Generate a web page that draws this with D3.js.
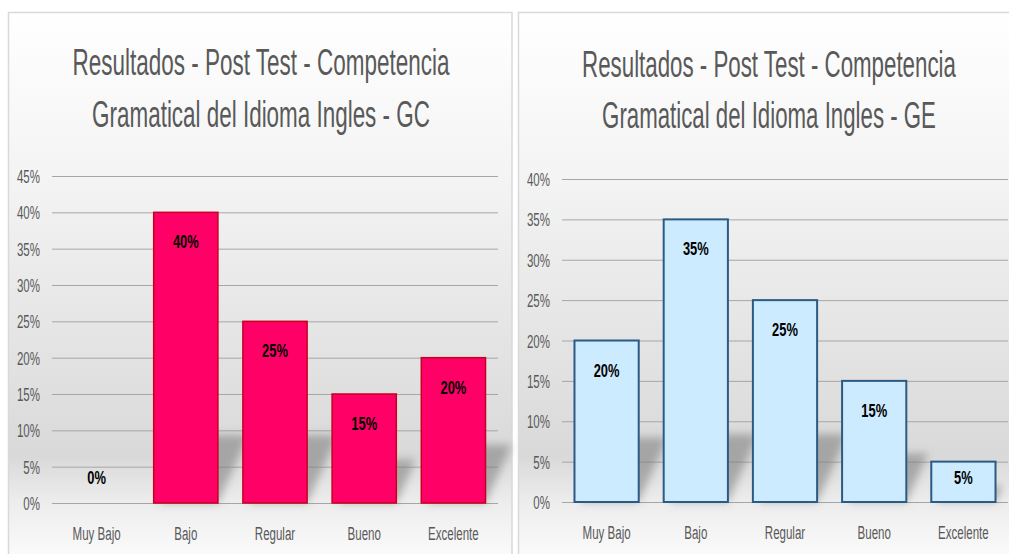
<!DOCTYPE html>
<html>
<head>
<meta charset="utf-8">
<script src="https://cdn.jsdelivr.net/npm/d3@7/dist/d3.min.js"></script>
<style>
  html, body { margin: 0; padding: 0; background: #fff; }
  svg { display: block; font-family: "Liberation Sans", Arial, sans-serif; }
</style>
</head>
<body>
<div id="chart"></div>
<script>
// categorias y valores (porcentajes)
const categories = ["Muy Bajo", "Bajo", "Regular", "Bueno", "Excelente"];
const valuesGC = [0, 40, 25, 15, 20];
const valuesGE = [20, 35, 25, 15, 5];
const ticksGC = [0, 5, 10, 15, 20, 25, 30, 35, 40, 45];
const ticksGE = [0, 5, 10, 15, 20, 25, 30, 35, 40];
const titleGC = ["Resultados - Post Test - Competencia", "Gramatical del Idioma Ingles - GC"];
const titleGE = ["Resultados - Post Test - Competencia", "Gramatical del Idioma Ingles - GE"];

const W = 1009, H = 554;
const SX = 0.64; // texto condensado

const svg = d3.select("#chart").append("svg").attr("width", W).attr("height", H);
const defs = svg.append("defs");

defs.append("filter").attr("id", "blur")
  .attr("x", "-50%").attr("y", "-50%").attr("width", "200%").attr("height", "200%")
  .append("feGaussianBlur").attr("stdDeviation", 4);

const grad = defs.append("linearGradient").attr("id", "bg")
  .attr("gradientUnits", "userSpaceOnUse")
  .attr("x1", 0).attr("x2", 0).attr("y1", 12).attr("y2", 554);
[[0, "#ffffff"], [0.3, "#f4f4f4"], [0.82, "#d9d9d9"], [0.9, "#ececec"], [1, "#fafafa"]]
  .forEach(([o, c]) => grad.append("stop").attr("offset", o).attr("stop-color", c));

function drawPanel(cfg) {
  const g = svg.append("g");

  // fondo del panel
  g.append("rect")
    .attr("x", cfg.px).attr("y", 12.5)
    .attr("width", cfg.pw).attr("height", 560)
    .attr("fill", "url(#bg)")
    .attr("stroke", "#d9d9d9").attr("stroke-width", 1.5);

  // titulo (escalado horizontal para que ocupe el ancho del original)
  cfg.title.forEach((t, i) => {
    const txt = g.append("text")
      .attr("text-anchor", "middle")
      .attr("font-size", 37)
      .attr("fill", "#595959")
      .text(t);
    const w = txt.node().getComputedTextLength();
    txt.attr("transform", `translate(${cfg.tx},${cfg.ty[i]}) scale(${cfg.tw[i] / w},1)`);
  });

  const x = d3.scaleBand()
    .domain(categories)
    .range([cfg.x0, cfg.x1])
    .paddingInner(0.28)
    .paddingOuter(0.14);

  const y = d3.scaleLinear()
    .domain([0, d3.max(cfg.ticks)])
    .range([cfg.y0, cfg.yTop]);

  // lineas de cuadricula + etiquetas eje Y
  const yAxis = g.append("g")
    .attr("transform", `translate(${cfg.x0},0)`)
    .call(d3.axisLeft(y)
      .tickValues(cfg.ticks)
      .tickFormat((d) => d + "%")
      .tickSize(-(cfg.x1 - cfg.x0))
      .tickPadding(12));
  yAxis.select(".domain").remove();
  yAxis.selectAll(".tick line").attr("stroke", "#a6a6a6").attr("stroke-width", 1);
  yAxis.selectAll(".tick text")
    .attr("x", 0).attr("dy", null).attr("y", 0)
    .attr("transform", `translate(-12,6.5) scale(${SX},1)`)
    .attr("font-size", 18)
    .attr("font-family", "Liberation Sans, Arial, sans-serif")
    .attr("fill", "#595959");

  // sombras
  g.append("g").attr("filter", "url(#blur)")
    .selectAll("polygon")
    .data(categories.map((c, i) => ({ c, v: cfg.values[i] })).filter((d) => d.v > 0))
    .enter()
    .append("polygon")
    .attr("points", (d) => {
      const xl = x(d.c), xr = xl + x.bandwidth();
      const h = cfg.y0 - y(d.v);
      const sh = Math.min(h * 0.4, 68);
      const dx = sh * 0.45;
      return [[xl + 6, cfg.y0], [xr, cfg.y0], [xr + dx, cfg.y0 - sh], [xl + dx, cfg.y0 - sh]].join(" ");
    })
    .attr("fill", "#7a7a7a")
    .attr("opacity", 0.55);

  // barras
  g.append("g")
    .selectAll("rect")
    .data(cfg.values)
    .enter()
    .append("rect")
    .attr("x", (d, i) => x(categories[i]))
    .attr("y", (d) => y(d))
    .attr("width", x.bandwidth())
    .attr("height", (d) => cfg.y0 - y(d))
    .attr("fill", cfg.fill)
    .attr("stroke", cfg.stroke)
    .attr("stroke-width", cfg.sw)
    .attr("display", (d) => (d > 0 ? null : "none"));

  // etiquetas de datos
  g.append("g")
    .selectAll("text")
    .data(cfg.values)
    .enter()
    .append("text")
    .attr("transform", (d, i) => {
      const cx = x(categories[i]) + x.bandwidth() / 2;
      const h = cfg.y0 - y(d);
      const by = h < 1 ? cfg.y0 - 19 : y(d) + Math.min(36, h * 0.55);
      return `translate(${cx},${by}) scale(0.68,1)`;
    })
    .attr("text-anchor", "middle")
    .attr("font-size", 19)
    .attr("font-weight", "bold")
    .attr("fill", "#000")
    .text((d) => d + "%");

  // etiquetas de categorias
  g.append("g")
    .selectAll("text")
    .data(categories)
    .enter()
    .append("text")
    .attr("transform", (d) => `translate(${x(d) + x.bandwidth() / 2},${cfg.y0 + 37}) scale(${SX},1)`)
    .attr("text-anchor", "middle")
    .attr("font-size", 18)
    .attr("fill", "#595959")
    .text((d) => d);
}

drawPanel({
  px: 8.5, pw: 503.5,
  tx: 261, ty: [75, 127], tw: [377, 338],
  title: titleGC,
  values: valuesGC, ticks: ticksGC,
  x0: 52, x1: 498, y0: 503, yTop: 176,
  fill: "#ff0066", stroke: "#c8001e", sw: 1.5,
});

drawPanel({
  px: 518.5, pw: 500,
  tx: 769, ty: [77, 128], tw: [374, 334],
  title: titleGE,
  values: valuesGE, ticks: ticksGE,
  x0: 562, x1: 1008, y0: 502, yTop: 179,
  fill: "#cdebff", stroke: "#2b5a85", sw: 2,
});
</script>
</body>
</html>
